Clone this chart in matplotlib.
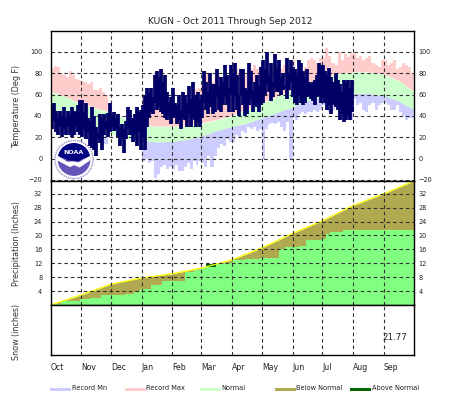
import numpy as np
import matplotlib
matplotlib.use("Agg")
import matplotlib.pyplot as plt
from matplotlib.patches import Rectangle, Circle, Polygon, Wedge

W, H = 463, 395
month_labels = ["Oct","Nov","Dec","Jan","Feb","Mar","Apr","May","Jun","Jul","Aug","Sep"]
month_lengths = [31,30,31,31,29,31,30,31,30,31,31,30]
N = np.nan

record_max = [
 [85,87,86,80,78,76,82,78,75,74],[73,72,70,72,64,64,66,62,60,58],[N]*10,
 [60,48,44,46,50,48,44,38,40,42],[44,46,48,52,54,50,56,64,65,66],[70,82,80,72,76,78,76,72,78,84],
 [82,84,80,82,78,86,84,88,84,86],[88,84,82,88,86,90,84,88,82,84],[92,84,90,82,86,92,94,92,90,94],
 [94,104,96,90,88,100,92,98,95,98],[99,94,96,92,94,96,90,88,86,92],[92,88,90,92,84,86,90,88,86,80]]
record_min = [
 [42,40,38,35,33,30,28,24,22,22],[24,22,20,22,18,20,18,14,14,20],[N]*10,
 [-2,0,-4,-2,-18,-14,-8,-6,-10,-8],[-10,-6,-12,-12,-8,-4,-10,-2,-6,-2],[-4,-8,2,-8,2,10,14,12,18,16],
 [16,22,20,26,24,30,28,30,26,28],[0,28,32,33,32,34,30,26,34,0],[38,36,42,44,42,44,44,46,44,46],
 [50,48,44,46,48,44,42,46,42,36],[56,50,52,46,44,50,52,46,50,52],[52,50,46,46,50,44,40,36,38,38]]
normal_days = [0,15,31,46,61,76,92,107,123,138,152,167,183,198,213,228,244,259,274,289,305,320,336,351,366]
normal_hi = [63,58,51,47,43,37,32,30,30,31,33,36,40,46,52,58,64,70,75,79,81,81,79,73,63]
normal_lo = [44,38,32,27,23,19,17,15.5,16,18,21,26,30,33,38,43,48,54,58,60,61,61,59,54,46]

obs_hi = [
 [50,52,45,38,45,40,48,38,45,42,48,45,44,50,55],[55,44,52,38,35,48,40,30,24,42,38,42,35,43,52],
 [40,44,38,42,30,32,28,35,48,46,38,42,48,44,46],[50,60,66,62,66,58,78,82,76,84,72,78,62,52,58],
 [66,52,50,60,46,62,60,52,68,56,72,60,50,62,56],[60,82,72,62,80,70,70,84,68,76,72,88,78,66,88],
 [80,90,78,60,84,84,66,64,90,82,64,72,78,68,86],[92,84,100,78,90,72,98,85,92,76,80,66,94,80,92],
 [86,84,78,92,90,82,76,84,72,70,72,74,78,90,88],[88,82,78,85,76,72,80,74,70,62,74,72,74,66,74]]
obs_lo = [
 [28,35,25,22,30,20,28,22,30,22,20,22,30,25,22],[20,28,18,25,12,10,8,2,18,15,8,22,28,20,25],
 [30,26,28,20,12,18,5,18,28,22,16,22,12,25,8],[20,8,30,38,44,42,52,46,48,44,42,38,36,40,32],
 [38,40,32,36,28,38,36,30,42,30,38,36,30,34,30],[38,52,46,42,48,42,44,58,46,44,50,58,50,44,60],
 [44,58,46,40,60,50,40,42,50,56,44,50,48,44,50],[52,60,70,62,54,58,66,62,62,60,64,68,56,64,72],
 [58,52,50,60,52,50,52,58,60,56,54,50,58,60,52],[58,52,46,50,42,50,48,46,36,42,34,36,40,36,44]]

precip_normal_days = [0,31,61,92,123,152,183,213,244,274,305,336,366]
precip_normal = [0,2.9,6.0,7.8,9.0,10.6,13.0,16.4,20.6,24.2,28.6,32.0,35.6]
precip_obs_days = [0,4.5,11,30,40,51,75,84,90,101,112,136,145,151,157,167,175,184,196,211,230,236,251,258,273,278,282,295,366]
precip_obs = [0,0.3,1.2,1.6,2.1,2.9,3.1,3.8,4.5,5.7,7.0,9.5,10.1,10.5,10.9,11.7,12.2,13.0,13.1,13.4,16.2,16.7,17.1,18.6,18.9,20.5,21.0,21.5,21.5]
above_days = [157,167]
above_obs = [11.9,11.9]
snow_total = "21.77"

title = "KUGN - Oct 2011 Through Sep 2012"
temp_ticks = [-20,0,20,40,60,80,100]
precip_ticks = [4,8,12,16,20,24,28,32]
legend_items = [("Record Mn","#ccccff",50),("Record Max","#ffcccc",125),("Normal","#ccffcc",200),
                ("Below Normal","#b0a94f",275),("Above Normal","#006400",350)]

plt.rcParams["font.family"] = "DejaVu Sans"
TXT = "#222222"
GRID = "#333333"
dash = (0, (3.2, 2.6))
fig = plt.figure(figsize=(W/100, H/100), dpi=100)

def mk(top, bottom):
    return fig.add_axes([50.5/W, 1-bottom/H, 363/W, (bottom-top)/H])

ax1, ax2, ax3 = mk(30.5,180.5), mk(180.5,305), mk(305,355)
month_start = np.concatenate([[0], np.cumsum(month_lengths)])

def rec_series(rows):
    xs, ys = [], []
    for s, l, row in zip(month_start, month_lengths, rows):
        for i, v in enumerate(row):
            xs.append(s + i*l/len(row)); ys.append(v)
    xs.append(366); ys.append(rows[-1][-1])
    return np.array(xs), np.array(ys, float)

rx, rmax = rec_series(record_max)
_, rmin = rec_series(record_min)
pink = ax1.fill_between(rx, -30, rmax, step="post", color="#ffcccc", lw=0, zorder=1)
clip_hi = ax1.fill_between(normal_days, normal_hi, 130, color="none", lw=0)
pink.set_clip_path(clip_hi.get_paths()[0], ax1.transData)
lav = ax1.fill_between(rx, rmin, 130, step="post", color="#ccccff", lw=0, zorder=1)
clip_lo = ax1.fill_between(normal_days, -30, normal_lo, color="none", lw=0)
lav.set_clip_path(clip_lo.get_paths()[0], ax1.transData)
ax1.fill_between(normal_days, normal_lo, normal_hi, color="#ccffcc", lw=0, zorder=2)

for s, l, hi, lo in zip(month_start, month_lengths, obs_hi, obs_lo):
    xx = [s + (i+0.5)*l/len(hi) for i in range(len(hi))]
    ax1.vlines(xx, lo, hi, color="#000066", lw=2.7, zorder=3)
ax1.set_ylim(-20.5, 120)
ax1.set_yticks(temp_ticks)

ax2.fill_between(precip_normal_days, 0, precip_normal, color="#b0a94f", lw=0, zorder=1)
ax2.fill_between(above_days, 0, above_obs, color="#006400", lw=0, zorder=1.5)
ax2.fill_between(precip_obs_days, 0, precip_obs, step="post", color="#80ff80", lw=0, zorder=2)
ax2.plot(precip_normal_days, precip_normal, color="#ffff00", lw=0.9, zorder=2.5)
ax2.set_ylim(0, 35.8)
ax2.set_yticks(precip_ticks)

ax3.set_ylim(0, 1)
ax3.set_yticks([])
fig.text(382.5/W, 1-337/H, snow_total, fontsize=6.3, color=TXT, va="center", ha="left", zorder=6)

for ax in (ax1, ax2, ax3):
    ax.set_xlim(0, 366)
    ax.set_xticks(month_start[1:-1])
    ax.grid(True, axis="x", color=GRID, lw=0.8, ls=dash)
    ax.set_axisbelow(False)
    ax.tick_params(length=0)
    for sp in ax.spines.values():
        sp.set_linewidth(1.0); sp.set_zorder(5)
    ax.tick_params(labelbottom=False)
for ax, ticks in ((ax1, temp_ticks), (ax2, precip_ticks)):
    ax.grid(True, axis="y", color=GRID, lw=0.8, ls=dash)
    ax.tick_params(axis="y", labelsize=4.7, labelcolor=TXT, pad=6)
    sec = ax.secondary_yaxis("right")
    sec.set_yticks(ticks)
    sec.tick_params(length=0, labelsize=4.7, labelcolor=TXT, pad=3.5)
    sec.spines["right"].set_visible(False)

ax3.set_xticks(month_start[:-1])
ax3.set_xticklabels(month_labels, fontsize=5.6, color=TXT, ha="left")
ax3.tick_params(labelbottom=True, pad=6)
ax3.grid(False)
for d in month_start[1:-1]:
    ax3.axvline(d, color=GRID, lw=0.8, ls=dash, zorder=4)

fig.text(230.5/W, 1-22/H, title, fontsize=6.6, color=TXT, ha="center", va="center")
for label, y in [("Temperature (Deg F)",106),("Precipitation (Inches)",243),("Snow (inches)",332)]:
    fig.text(17/W, 1-y/H, label, rotation=90, fontsize=5.8, color="#333333", ha="center", va="center")

for label, color, x in legend_items:
    fig.add_artist(Rectangle((x/W, 1-391/H), 21/W, 3/H, color=color, lw=0, transform=fig.transFigure))
    fig.text((x+21.5)/W, 1-387.5/H, label, fontsize=4.8, color=TXT, ha="left", va="center")

# NOAA logo
lg = fig.add_axes([54/W, 1-179.5/H, 40/W, 40/H])
lg.set_xlim(-1.05, 1.05); lg.set_ylim(-1.05, 1.05); lg.axis("off"); lg.patch.set_alpha(0)
lg.add_patch(Circle((0,0), 1.0, fc="white", ec="#9a90cc", lw=1.0, ls=(0,(1,0.6))))
lg.add_patch(Circle((0,0), 0.86, fc="#6653b8", ec="none"))
lg.add_patch(Wedge((0,0), 0.86, 8, 172, fc="#000080", ec="none"))
lg.add_patch(Polygon([[-0.88,0.22],[-0.35,-0.12],[-0.05,-0.1],[0.25,-0.15],[0.85,0.2],[0.88,-0.02],
                      [0.3,-0.42],[0.0,-0.3],[-0.2,-0.4],[-0.88,-0.05]], fc="white", ec="none"))
lg.add_patch(Polygon([[-0.75,0.2],[-0.3,-0.05],[0.25,-0.08],[0.8,0.22],[0.6,0.62],[0,0.85],[-0.6,0.62]],
                     fc="#000080", ec="none"))
lg.text(0, 0.36, "NOAA", color="white", fontsize=4.5, fontweight="bold", ha="center", va="center")

fig.savefig("out.png", dpi=100)
